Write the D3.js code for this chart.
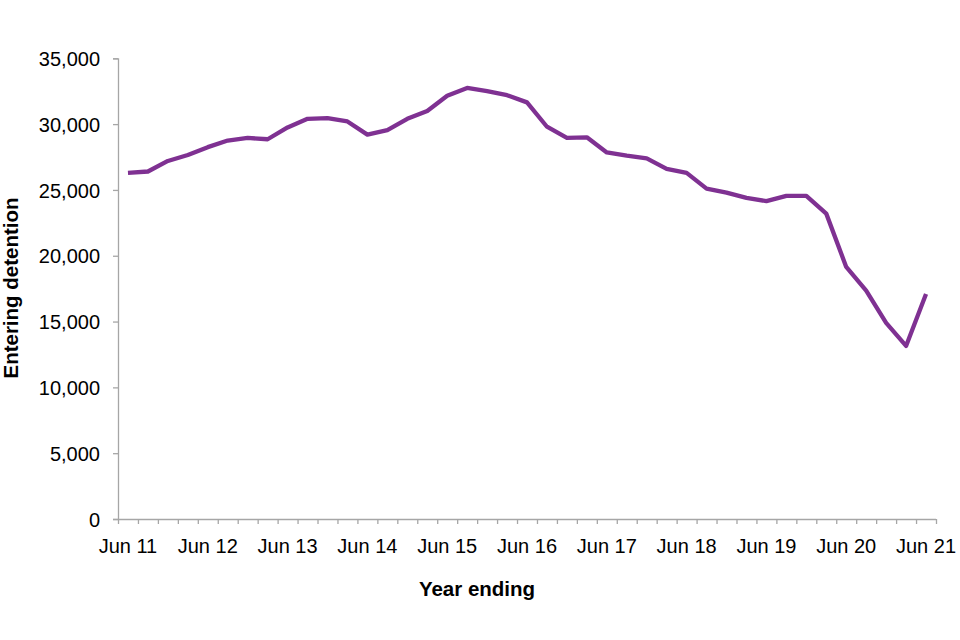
<!DOCTYPE html>
<html>
<head>
<meta charset="utf-8">
<script src="https://cdn.jsdelivr.net/npm/d3@7"></script>
<style>
  html, body { margin: 0; padding: 0; background: #fff; }
  svg text { font-family: "Liberation Sans", Arial, sans-serif; fill: #000; }
</style>
</head>
<body>
<svg id="chart" width="960" height="640"></svg>
<script>
// Quarterly periods (year ending), Jun 11 to Jun 21
const periods = [
  "Jun 11","Sep 11","Dec 11","Mar 12","Jun 12","Sep 12","Dec 12","Mar 13",
  "Jun 13","Sep 13","Dec 13","Mar 14","Jun 14","Sep 14","Dec 14","Mar 15",
  "Jun 15","Sep 15","Dec 15","Mar 16","Jun 16","Sep 16","Dec 16","Mar 17",
  "Jun 17","Sep 17","Dec 17","Mar 18","Jun 18","Sep 18","Dec 18","Mar 19",
  "Jun 19","Sep 19","Dec 19","Mar 20","Jun 20","Sep 20","Dec 20","Mar 21",
  "Jun 21"
];
// Entering detention, year ending each quarter
const enteringDetention = [
  26300, 26400, 27200, 27650, 28250, 28750, 28950, 28850,
  29750, 30400, 30450, 30200, 29200, 29550, 30400, 31000,
  32150, 32750, 32500, 32200, 31650, 29800, 28950, 29000,
  27850, 27600, 27400, 26600, 26300, 25100, 24800, 24400,
  24150, 24550, 24550, 23200, 19150, 17350, 14900, 13150,
  17100
];
const xTickLabels = ["Jun 11","Jun 12","Jun 13","Jun 14","Jun 15","Jun 16","Jun 17","Jun 18","Jun 19","Jun 20","Jun 21"];
const yTicks = [0, 5000, 10000, 15000, 20000, 25000, 30000, 35000];

(function () {
const svg = d3.select("#chart");
const mLeft = 118, mRight = 936, mTop = 58.3, mBottom = 519;
const axisColor = "#a6a6a6";

const x = d3.scaleBand().domain(periods).range([mLeft, mRight]).padding(0);
const xEdge = d3.scaleLinear().domain([0, periods.length]).range([mLeft, mRight]);
const y = d3.scaleLinear().domain([0, 35000]).range([mBottom, mTop]);

// Y axis
const yAxis = svg.append("g")
  .attr("transform", `translate(${mLeft},0)`)
  .call(d3.axisLeft(y).tickValues(yTicks).tickSize(5).tickPadding(13)
    .tickFormat(d3.format(",")));
yAxis.select(".domain").attr("stroke", axisColor).attr("stroke-width", 1.3);
yAxis.selectAll(".tick line").attr("stroke", axisColor).attr("stroke-width", 1.3);
yAxis.selectAll(".tick text").style("font-size", "20px").attr("dy", "0.36em");

// X axis: tick marks at category edges
const xAxis = svg.append("g")
  .attr("transform", `translate(0,${mBottom})`)
  .call(d3.axisBottom(xEdge).tickValues(d3.range(periods.length + 1)).tickSize(5).tickFormat(""));
xAxis.select(".domain").attr("stroke", axisColor).attr("stroke-width", 1.3)
  .attr("d", `M${mLeft},0.5H${mRight}`);
xAxis.selectAll(".tick line").attr("stroke", axisColor).attr("stroke-width", 1.3);

// X labels at category centres
svg.append("g").selectAll("text")
  .data(xTickLabels)
  .join("text")
  .attr("x", d => x(d) + x.bandwidth() / 2)
  .attr("y", 553)
  .attr("text-anchor", "middle")
  .style("font-size", "20px")
  .text(d => d);

// Line
const line = d3.line()
  .x((d, i) => x(periods[i]) + x.bandwidth() / 2)
  .y(d => y(d));
svg.append("path")
  .datum(enteringDetention)
  .attr("fill", "none")
  .attr("stroke", "#7f3192")
  .attr("stroke-width", 4.3)
  .attr("stroke-linejoin", "round")
  .attr("d", line);

// Axis titles
svg.append("text")
  .attr("x", 477).attr("y", 596)
  .attr("text-anchor", "middle")
  .style("font-size", "20.5px").style("font-weight", "bold")
  .text("Year ending");
svg.append("text")
  .attr("transform", "translate(18,288) rotate(-90)")
  .attr("text-anchor", "middle")
  .style("font-size", "20.5px").style("font-weight", "bold")
  .text("Entering detention");
})();
</script>
</body>
</html>
